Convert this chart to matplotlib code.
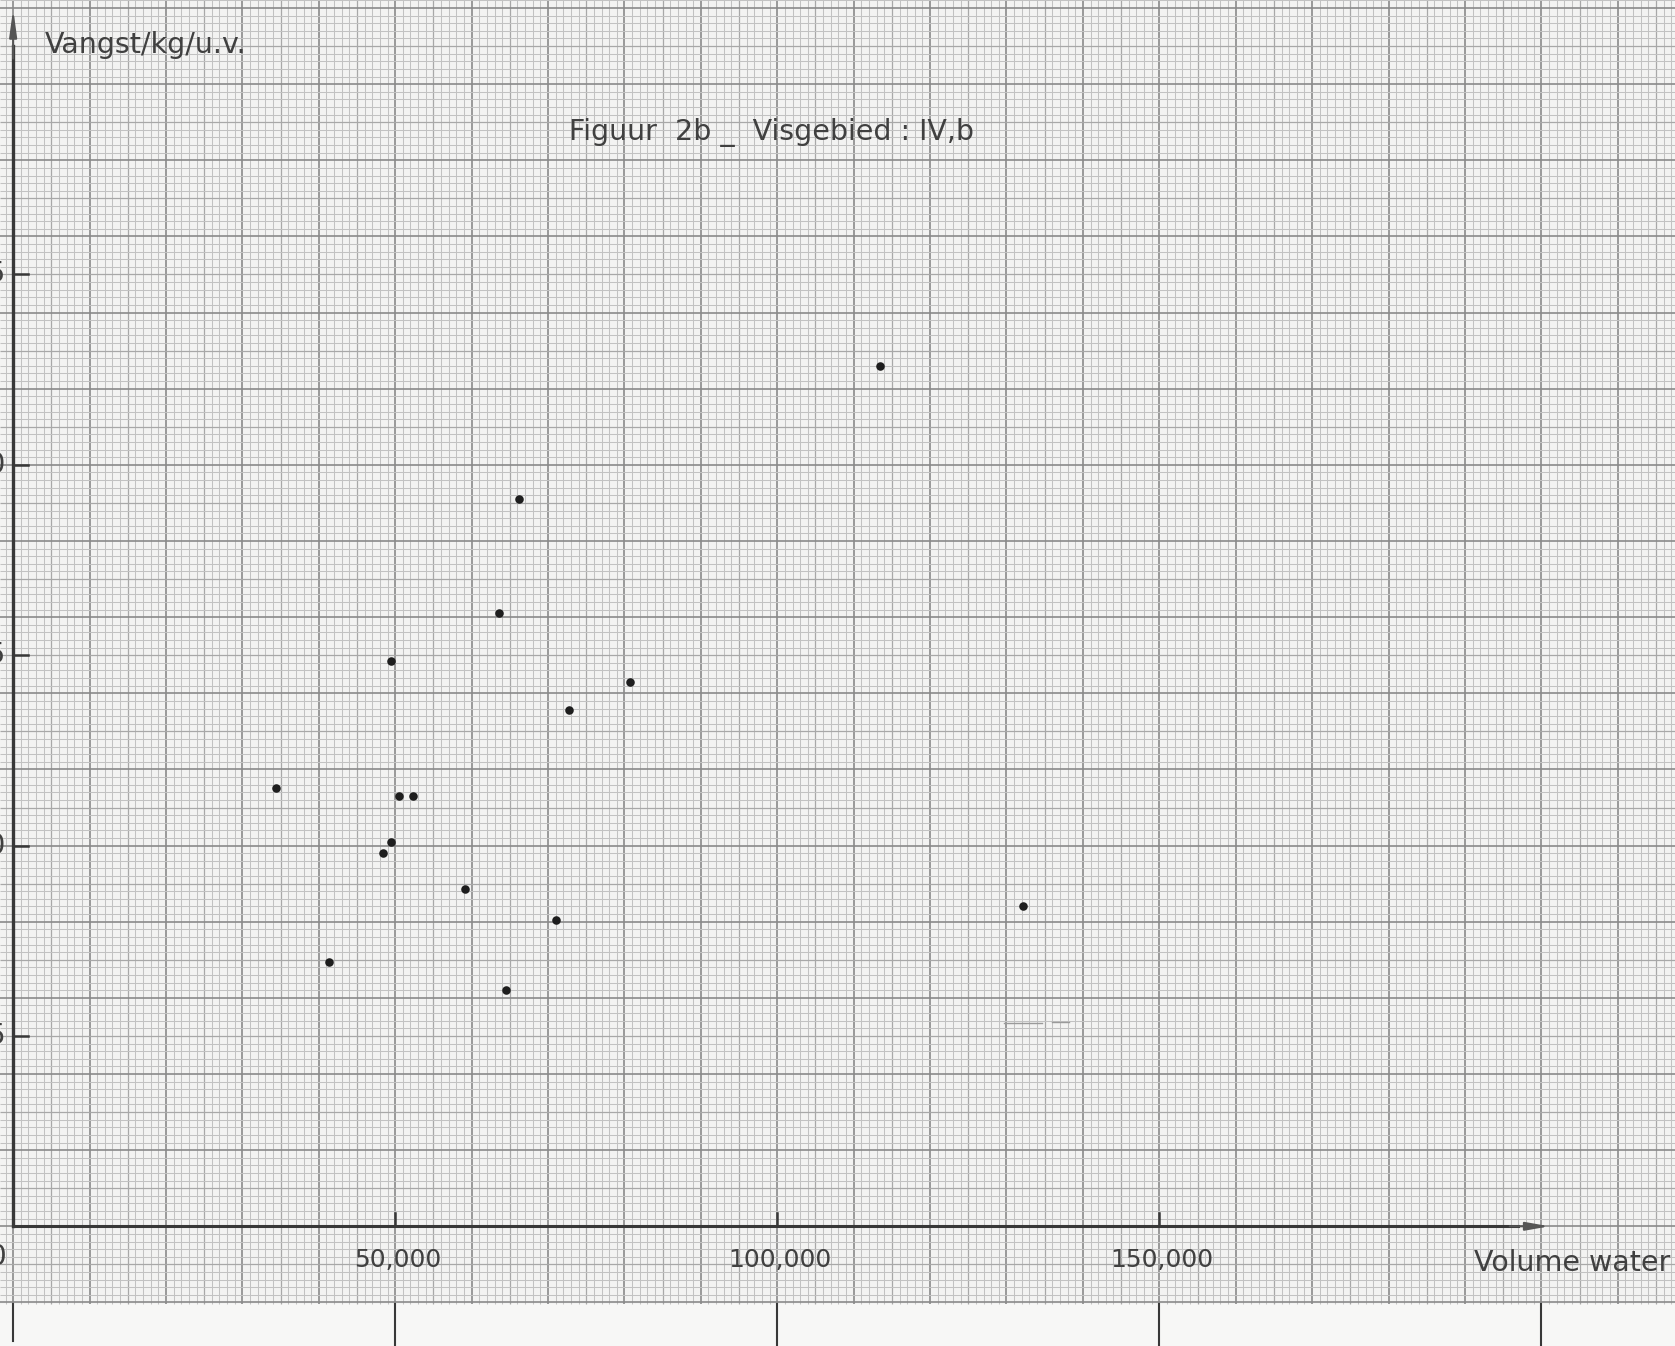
import numpy as np
import matplotlib
matplotlib.use("Agg")
import matplotlib.pyplot as plt

# ---- data ----
vol_water = [34400, 41400, 48400, 49500, 49400, 50500, 52300, 59200,
             63600, 64500, 66200, 71100, 72700, 80700, 113500, 132100]
vangst = [11.5, 6.95, 9.8, 10.1, 14.85, 11.3, 11.3, 8.85,
          16.1, 6.2, 19.1, 8.05, 13.55, 14.3, 22.6, 8.4]

x_ticks = [50000, 100000, 150000]
x_tick_labels = ["50,000", "100,000", "150,000"]
y_ticks = [5, 10, 15, 20, 25]
y_tick_labels = ["5", "10", "15", "20", "25"]
bottom_marks = [0, 50000, 100000, 150000, 200000]

title = "Figuur  2b _  Visgebied : IV,b"
ylabel = "Vangst/kg/u.v."
xlabel = "Volume water"

# ---- figure ----
W, H = 1675, 1346
fig = plt.figure(figsize=(W / 100, H / 100), dpi=100, facecolor="#f5f5f4")
ax = fig.add_axes([0, 0, 1, 1])
ax.set_facecolor("#f5f5f4")
XMIN, XMAX = -1720, 217490
YMIN, YMAX = -3.144, 32.21
ax.set_xlim(XMIN, XMAX)
ax.set_ylim(YMIN, YMAX)
ax.axis("off")

# graph-paper region
PAPER_BOTTOM = -2.05
ax.axhspan(PAPER_BOTTOM, YMAX, color="#f3f3f2", zorder=0)
ax.axhspan(YMIN, PAPER_BOTTOM, color="#f7f7f6", zorder=0)

# mm grid
xs_minor = np.arange(-2000, 220001, 1000)
ys_minor = np.arange(-2.0, 32.3, 0.2)


def grid_style(k):
    if k % 10 == 0:
        return "#8a8a8a", 1.2
    if k % 5 == 0:
        return "#a8a8a8", 0.9
    return "#c2c2c2", 0.75


for xv in xs_minor:
    c, lw = grid_style(int(round(xv / 1000)))
    ax.plot([xv, xv], [PAPER_BOTTOM, YMAX], color=c, lw=lw, zorder=1,
            solid_capstyle="butt")
for yv in ys_minor:
    c, lw = grid_style(int(round(yv / 0.2)))
    ax.plot([XMIN, XMAX], [yv, yv], color=c, lw=lw, zorder=1,
            solid_capstyle="butt")

axis_col = "#383838"
text_col = "#404040"

# axes lines with arrows
ax.plot([0, 197000], [0, 0], color=axis_col, lw=2.2, zorder=3)
ax.annotate("", xy=(201400, 0), xytext=(195500, 0),
            arrowprops=dict(arrowstyle="-|>,head_length=1.4,head_width=0.25",
                            color="#555555", lw=1.5), zorder=3)
ax.plot([0, 0], [0, 31.0], color=axis_col, lw=2.4, zorder=3)
ax.annotate("", xy=(0, 32.05), xytext=(0, 30.6),
            arrowprops=dict(arrowstyle="-|>,head_length=1.6,head_width=0.22",
                            color="#555555", lw=1.5), zorder=3)

# y ticks and labels (labels clipped by the paper edge, as in the scan)
for yv, lab in zip(y_ticks, y_tick_labels):
    ax.plot([0, 1900], [yv, yv], color=axis_col, lw=1.8, zorder=3)
    ax.text(-1050, yv, lab, ha="right", va="center", fontsize=20,
            color=text_col, family="DejaVu Sans", zorder=4, clip_on=False)

# x ticks and labels
for xv, lab in zip(x_ticks, x_tick_labels):
    ax.plot([xv, xv], [0, 0.35], color=axis_col, lw=1.8, zorder=3)
    ax.text(xv + 300, -0.88, lab, ha="center", va="center", fontsize=18,
            color=text_col, family="DejaVu Sans", zorder=4)
ax.text(-900, -0.8, "0", ha="right", va="center", fontsize=20,
        color=text_col, family="DejaVu Sans", zorder=4)

# long marks below the graph paper
for xv in bottom_marks:
    ybot = -3.0 if xv == 0 else YMIN
    ax.plot([xv, xv], [PAPER_BOTTOM, ybot], color=axis_col, lw=1.5, zorder=3)

# faint pencil mark
ax.plot([129700, 134600], [5.34, 5.34], color="#9a9a9a", lw=1.0, zorder=2)
ax.plot([135900, 138200], [5.36, 5.36], color="#9a9a9a", lw=1.0, zorder=2)

# labels
ax.text(4200, 31.03, ylabel, ha="left", va="center", fontsize=20.5,
        color=text_col, family="DejaVu Sans", zorder=4)
ax.text(191200, -0.97, xlabel, ha="left", va="center", fontsize=20.5,
        color=text_col, family="DejaVu Sans", zorder=4)
ax.text(99300, 28.74, title, ha="center", va="center", fontsize=20.5,
        color=text_col, family="DejaVu Sans", zorder=4)

# data points
ax.scatter(vol_water, vangst, s=38, color="#1e1e1e", zorder=5, linewidths=0)

fig.savefig("out.png", dpi=100, facecolor=fig.get_facecolor())
